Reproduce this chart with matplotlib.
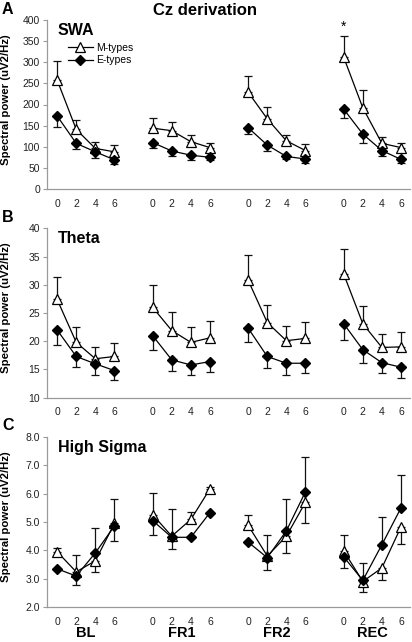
import numpy as np
import matplotlib
matplotlib.use("Agg")
import matplotlib.pyplot as plt
import matplotlib.transforms as mtransforms

plt.rcParams["font.family"] = ["Liberation Sans", "DejaVu Sans"]

groups = ["BL", "FR1", "FR2", "REC"]
hours = ["0", "2", "4", "6"]

# SWA (panel A)
swa_m = [258, 141, 96, 88, 144, 138, 112, 98, 229, 166, 114, 91, 312, 192, 108, 98]
swa_m_hi = [45, 22, 16, 16, 23, 21, 16, 12, 39, 29, 14, 16, 51, 42, 14, 12]
swa_m_lo = [0] * 16
swa_e = [173, 108, 88, 69, 110, 90, 80, 75, 145, 104, 77, 71, 189, 130, 91, 70]
swa_e_hi = [0] * 16
swa_e_lo = [27, 13, 15, 11, 12, 13, 11, 6, 15, 13, 7, 10, 22, 20, 13, 9]

# Theta (panel B)
theta_m = [27.4, 19.8, 16.9, 17.3, 26.0, 21.9, 19.8, 20.6, 30.8, 23.3, 20.1, 20.5, 31.9, 23.1, 18.9, 19.0]
theta_m_hi = [3.9, 2.7, 2.1, 2.3, 3.9, 3.2, 2.7, 3.0, 4.5, 3.1, 2.6, 2.9, 4.4, 3.1, 2.4, 2.7]
theta_m_lo = [0] * 16
theta_e = [22.0, 17.3, 16.0, 14.8, 21.0, 16.7, 15.8, 16.4, 22.3, 17.3, 16.1, 16.1, 23.1, 18.5, 16.2, 15.4]
theta_e_hi = [0] * 16
theta_e_lo = [2.7, 1.9, 1.9, 1.7, 2.5, 1.9, 1.7, 1.9, 2.4, 2.0, 2.0, 1.8, 2.9, 2.3, 1.9, 1.9]

# High sigma (panel C)
sigma_m = [3.95, 3.24, 3.63, 4.95, 5.26, 4.50, 5.09, 6.17, 4.88, 3.80, 4.50, 5.70, 3.98, 2.90, 3.38, 4.83]
sigma_m_hi = [0.12, 0.61, 0, 0.86, 0.78, 0.96, 0.28, 0.08, 0.38, 0.75, 0, 0, 0.56, 0.66, 0, 0]
sigma_m_lo = [0, 0, 0.41, 0, 0, 0, 0, 0, 0, 0, 0.59, 0.74, 0, 0, 0.41, 0.59]
sigma_e = [3.35, 3.09, 3.91, 4.86, 5.05, 4.46, 4.46, 5.33, 4.29, 3.74, 4.69, 6.07, 3.77, 2.94, 4.20, 5.50]
sigma_e_hi = [0, 0, 0.88, 0, 0, 0, 0, 0, 0, 0, 1.11, 1.22, 0, 0, 0.98, 1.17]
sigma_e_lo = [0, 0.30, 0, 0.52, 0.50, 0.43, 0, 0, 0, 0.42, 0, 0, 0.41, 0.40, 0, 0]

panels = [
    ("A", "SWA", (0, 400), np.arange(0, 401, 50), "%d",
     swa_m, swa_m_hi, swa_m_lo, swa_e, swa_e_hi, swa_e_lo),
    ("B", "Theta", (10, 40), np.arange(10, 41, 5), "%d",
     theta_m, theta_m_hi, theta_m_lo, theta_e, theta_e_hi, theta_e_lo),
    ("C", "High Sigma", (2, 8), np.arange(2, 8.01, 1), "%.1f",
     sigma_m, sigma_m_hi, sigma_m_lo, sigma_e, sigma_e_hi, sigma_e_lo),
]

# x positions: 4 points per condition, one empty slot between conditions
xpos = np.array([g * 5 + i for g in range(4) for i in range(4)])

W, H = 412, 642
fig = plt.figure(figsize=(W / 100, H / 100), dpi=100)
fig.patch.set_facecolor("white")

axes_px = [(20, 189), (228.3, 397.7), (437, 607)]  # top, bottom in pixels
left_px, right_px = 47, 410
grey = "#9a9a9a"

for (letter, name, ylim, yticks, yfmt, m, m_hi, m_lo, e, e_hi, e_lo), (top, bot) in zip(panels, axes_px):
    ax = fig.add_axes([left_px / W, 1 - bot / H, (right_px - left_px) / W, (bot - top) / H])
    m, m_hi, m_lo = np.array(m), np.array(m_hi), np.array(m_lo)
    e, e_hi, e_lo = np.array(e), np.array(e_hi), np.array(e_lo)

    for vals, hi, lo in [(m, m_hi, m_lo), (e, e_hi, e_lo)]:
        keep = (hi > 0) | (lo > 0)
        ax.errorbar(xpos[keep], vals[keep], yerr=[lo[keep], hi[keep]], fmt="none",
                    ecolor="#111111", elinewidth=0.9, capsize=3, capthick=0.9, zorder=1)

    for g in range(4):
        sl = slice(g * 4, g * 4 + 4)
        ax.plot(xpos[sl], m[sl], color="black", linewidth=0.9, marker="^", markersize=7.5,
                markerfacecolor="white", markeredgecolor="black", markeredgewidth=0.9,
                zorder=3, label="M-types" if g == 0 else None)
        ax.plot(xpos[sl], e[sl], color="black", linewidth=0.9, marker="D", markersize=5.5,
                markerfacecolor="black", markeredgecolor="black",
                zorder=4, label="E-types" if g == 0 else None)

    ax.set_xlim(-0.53, 18.47)
    ax.set_ylim(*ylim)
    ax.set_yticks(yticks)
    ax.set_yticklabels([yfmt % v for v in yticks])
    ax.set_xticks(xpos)
    ax.set_xticklabels(hours * 4)
    ax.tick_params(axis="y", direction="out", length=3, width=0.8, color=grey,
                   labelsize=7.5, labelcolor="#222222", pad=2)
    ax.tick_params(axis="x", length=0, labelsize=7.5, labelcolor="#222222", pad=7)
    for s in ["top", "right"]:
        ax.spines[s].set_visible(False)
    for s in ["left", "bottom"]:
        ax.spines[s].set_color(grey)
        ax.spines[s].set_linewidth(0.9)

    ax.set_ylabel("Spectral power (uV2/Hz)", fontsize=8.2, fontweight="bold")
    ax.yaxis.set_label_coords(-0.1, 0.53)
    ax.text(0.03, 0.94, name, transform=ax.transAxes, fontsize=11.5, fontweight="bold",
            ha="left", va="center")
    fig.text(2 / W, 1 - (top - 11) / H, letter, fontsize=11.5, fontweight="bold",
             ha="left", va="center")

    if letter == "A":
        ax.legend(loc="upper left", bbox_to_anchor=(0.045, 0.89), frameon=False,
                  fontsize=7.5, handlelength=2.4, handletextpad=0.3,
                  labelspacing=0.25, borderaxespad=0)
        ax.text(xpos[12], m[12] + m_hi[12] + 4, "*", ha="center", va="bottom", fontsize=10)

    if letter == "C":
        trans = mtransforms.blended_transform_factory(ax.transData, ax.transAxes)
        for g, lab in enumerate(groups):
            ax.text(xpos[g * 4:g * 4 + 4].mean(), -0.155, lab, transform=trans,
                    ha="center", va="center", fontsize=10.5, fontweight="bold")

fig.text(205 / W, 1 - 10.5 / H, "Cz derivation", fontsize=12, fontweight="bold",
         ha="center", va="center")

fig.savefig("out.png", dpi=100)
